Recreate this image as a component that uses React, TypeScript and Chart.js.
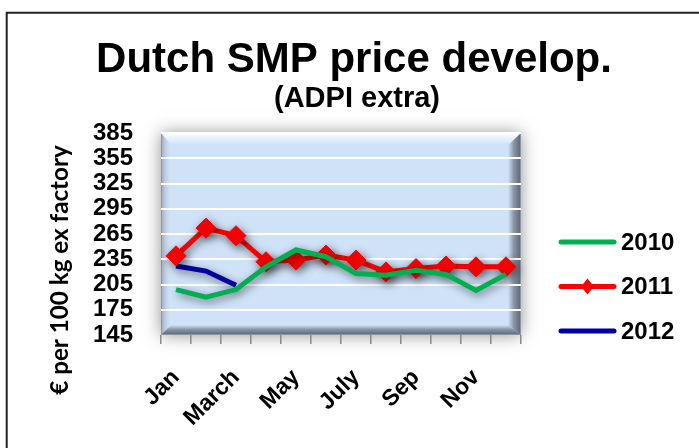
import React, { useEffect, useRef } from 'react';
import { Chart, registerables } from 'chart.js';

Chart.register(...registerables);

const months = ['Jan', 'Feb', 'March', 'April', 'May', 'June', 'July', 'Aug', 'Sep', 'Oct', 'Nov', 'Dec'];
const series2010 = [199, 190, 199, 226, 246, 238, 218, 216, 222, 217, 198, 217];
const series2011 = [239, 272, 263, 232, 234, 240, 234, 220, 224, 227, 226, 226];
const series2012 = [227, 221, 204];
const yTicks = [145, 175, 205, 235, 265, 295, 325, 355, 385];
const seriesNames = ['2010', '2011', '2012'];
const titleText = 'Dutch SMP price develop.';
const subtitleText = '(ADPI extra)';
const yTitleText = '€ per 100 kg ex factory';

const ARIAL = '"Liberation Sans", Arial, sans-serif';

const decor = {
  id: 'decor',
  beforeDraw(chart: any) {
    const { ctx, chartArea: a } = chart;
    ctx.save();
    // outer frame
    ctx.strokeStyle = '#222';
    ctx.lineWidth = 2;
    ctx.beginPath();
    ctx.moveTo(6.7, 470);
    ctx.lineTo(6.7, 12.7);
    ctx.lineTo(720, 12.7);
    ctx.stroke();

    // plot area with soft shadow
    ctx.shadowColor = 'rgba(70,70,70,0.6)';
    ctx.shadowBlur = 16;
    ctx.fillStyle = '#cfe2f8';
    ctx.fillRect(a.left, a.top, a.width, a.height);
    ctx.shadowColor = 'rgba(0,0,0,0)';
    ctx.shadowBlur = 0;

    // top highlight
    let g = ctx.createLinearGradient(0, a.top, 0, a.top + 12);
    g.addColorStop(0, 'rgba(255,255,255,0.95)');
    g.addColorStop(1, 'rgba(255,255,255,0)');
    ctx.fillStyle = g;
    ctx.beginPath();
    ctx.moveTo(a.left, a.top);
    ctx.lineTo(a.right, a.top);
    ctx.lineTo(a.right - 11, a.top + 12);
    ctx.lineTo(a.left + 10, a.top + 12);
    ctx.closePath();
    ctx.fill();

    // left edge
    g = ctx.createLinearGradient(a.left, 0, a.left + 10, 0);
    g.addColorStop(0, 'rgba(150,160,175,0.9)');
    g.addColorStop(1, 'rgba(200,215,235,0)');
    ctx.fillStyle = g;
    ctx.beginPath();
    ctx.moveTo(a.left, a.top);
    ctx.lineTo(a.left + 10, a.top + 12);
    ctx.lineTo(a.left + 10, a.bottom - 10);
    ctx.lineTo(a.left, a.bottom);
    ctx.closePath();
    ctx.fill();

    // right bevel
    g = ctx.createLinearGradient(a.right - 13, 0, a.right, 0);
    g.addColorStop(0, 'rgba(130,140,155,0)');
    g.addColorStop(0.45, 'rgba(125,135,150,0.85)');
    g.addColorStop(1, 'rgba(90,98,112,1)');
    ctx.fillStyle = g;
    ctx.beginPath();
    ctx.moveTo(a.right, a.top);
    ctx.lineTo(a.right, a.bottom);
    ctx.lineTo(a.right - 13, a.bottom - 10);
    ctx.lineTo(a.right - 13, a.top + 12);
    ctx.closePath();
    ctx.fill();

    // bottom bevel
    g = ctx.createLinearGradient(0, a.bottom - 10, 0, a.bottom);
    g.addColorStop(0, 'rgba(130,140,155,0)');
    g.addColorStop(0.45, 'rgba(125,135,150,0.85)');
    g.addColorStop(1, 'rgba(90,98,112,1)');
    ctx.fillStyle = g;
    ctx.beginPath();
    ctx.moveTo(a.left, a.bottom);
    ctx.lineTo(a.right, a.bottom);
    ctx.lineTo(a.right - 13, a.bottom - 10);
    ctx.lineTo(a.left + 10, a.bottom - 10);
    ctx.closePath();
    ctx.fill();

    ctx.strokeStyle = '#8a94a2';
    ctx.lineWidth = 1;
    ctx.strokeRect(a.left + 0.5, a.top + 0.5, a.width - 1, a.height - 1);
    ctx.restore();
  },
  beforeDatasetsDraw(chart: any) {
    const c = chart.ctx;
    c.save();
    c.shadowColor = 'rgba(0,0,0,0.5)';
    c.shadowBlur = 8;
    c.shadowOffsetX = 2;
    c.shadowOffsetY = 3;
  },
  afterDatasetsDraw(chart: any) {
    chart.ctx.restore();
  },
  afterDraw(chart: any) {
    const { ctx } = chart;
    ctx.save();
    ctx.fillStyle = '#000';
    ctx.textAlign = 'center';
    ctx.textBaseline = 'alphabetic';
    ctx.font = `bold 42px ${ARIAL}`;
    ctx.fillText(titleText, 354, 72);
    ctx.font = `bold 29px ${ARIAL}`;
    ctx.fillText(subtitleText, 357, 107);

    // y axis title
    ctx.save();
    ctx.translate(60, 270);
    ctx.rotate(-Math.PI / 2);
    ctx.font = `bold 20px Lato, "Open Sans", sans-serif`;
    const w = ctx.measureText(yTitleText).width;
    const size = 20 * 250 / w;
    ctx.font = `bold ${size.toFixed(1)}px Lato, "Open Sans", sans-serif`;
    ctx.textBaseline = 'middle';
    ctx.fillText(yTitleText, 0, 0);
    ctx.restore();

    // legend
    const ds = chart.data.datasets;
    ds.forEach((d: any, i: number) => {
      const y = 242 + i * 44.5;
      ctx.strokeStyle = d.borderColor;
      ctx.lineWidth = 5;
      ctx.lineCap = 'round';
      ctx.beginPath();
      ctx.moveTo(561, y);
      ctx.lineTo(614, y);
      ctx.stroke();
      if (d.pointRadius > 0) {
        const cx = 587.5;
        const r = 8;
        ctx.fillStyle = d.pointBackgroundColor;
        ctx.beginPath();
        ctx.moveTo(cx, y - r);
        ctx.lineTo(cx + r * 0.8, y);
        ctx.lineTo(cx, y + r);
        ctx.lineTo(cx - r * 0.8, y);
        ctx.closePath();
        ctx.fill();
      }
      ctx.fillStyle = '#000';
      ctx.textAlign = 'left';
      ctx.textBaseline = 'middle';
      ctx.font = `bold 24px ${ARIAL}`;
      ctx.fillText(d.label, 621, y + 1);
    });
    ctx.restore();
  },
};

export default function App() {
  const ref = useRef<HTMLCanvasElement | null>(null);
  useEffect(() => {
    if (!ref.current) return;
    const chart = new Chart(ref.current, {
      type: 'line',
      data: {
        labels: months,
        datasets: [
          {
            label: seriesNames[0],
            data: series2010,
            borderColor: '#00b050',
            backgroundColor: '#00b050',
            borderWidth: 5,
            pointRadius: 0,
            tension: 0,
          },
          {
            label: seriesNames[1],
            data: series2011,
            borderColor: '#ff0000',
            backgroundColor: '#ff0000',
            pointBackgroundColor: '#ff0000',
            pointBorderColor: '#ff0000',
            pointStyle: 'rectRot',
            pointRadius: 10,
            pointBorderWidth: 1,
            borderWidth: 5,
            tension: 0,
          },
          {
            label: seriesNames[2],
            data: series2012,
            borderColor: '#0000a0',
            backgroundColor: '#0000a0',
            borderWidth: 5,
            pointRadius: 0,
            tension: 0,
          },
        ],
      },
      options: {
        responsive: false,
        animation: false,
        devicePixelRatio: 1,
        layout: { padding: { left: 0, top: 133, right: 178, bottom: 0 } },
        plugins: {
          legend: { display: false },
          title: { display: false },
          tooltip: { enabled: false },
        },
        scales: {
          x: {
            offset: true,
            grid: {
              display: true,
              drawOnChartArea: false,
              drawTicks: true,
              tickLength: 9,
              color: '#8a8a8a',
              lineWidth: 1.5,
              offset: true,
            },
            border: { display: false },
            ticks: {
              autoSkip: false,
              maxRotation: 45,
              minRotation: 45,
              padding: 20,
              color: '#000',
              font: { family: ARIAL, size: 23, weight: 'bold' },
              callback: (_v: any, i: number) => (i % 2 === 0 ? months[i] : ''),
            },
            afterFit: (s: any) => {
              s.height = 113;
            },
          },
          y: {
            min: 145,
            max: 385,
            afterBuildTicks: (s: any) => {
              s.ticks = yTicks.map((v) => ({ value: v }));
            },
            grid: {
              color: (c: any) => (c.tick && c.tick.value === 145 ? 'rgba(0,0,0,0)' : '#ffffff'),
              lineWidth: 2,
              drawTicks: false,
            },
            border: { display: false },
            ticks: {
              autoSkip: false,
              padding: 28,
              color: '#000',
              font: { family: ARIAL, size: 24, weight: 'bold', lineHeight: 1 },
            },
            afterFit: (s: any) => {
              s.width = 161;
            },
          },
        },
      },
      plugins: [decor],
    } as any);
    return () => chart.destroy();
  }, []);

  return (
    <div style={{ position: 'absolute', left: 0, top: 0, width: 699, height: 448 }}>
      <canvas ref={ref} width={699} height={448} style={{ display: 'block' }} />
    </div>
  );
}
